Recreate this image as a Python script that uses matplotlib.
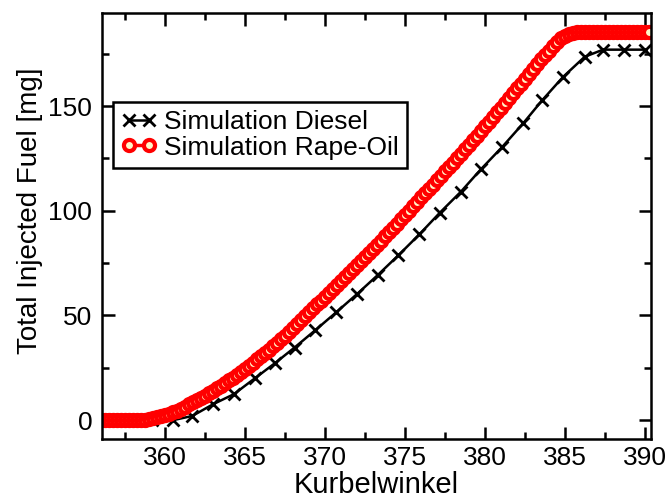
import numpy as np
import matplotlib
matplotlib.use('Agg')
import matplotlib.pyplot as plt
from matplotlib.ticker import MultipleLocator

plt.rcParams['font.family'] = ['Liberation Sans', 'DejaVu Sans']

# Simulation Diesel (crank angle, injected fuel in mg)
diesel_x = [356.6, 357.9, 359.2, 360.5, 361.7, 363.0, 364.3, 365.6, 366.9, 368.1,
            369.4, 370.7, 372.0, 373.3, 374.6, 375.9, 377.2, 378.5, 379.75, 381.1,
            382.4, 383.6, 384.9, 386.25, 387.4, 388.7, 390.0]
diesel_y = [0, 0, 0, 0, 2.0, 7.6, 12.4, 19.9, 27.4, 34.7,
            43.0, 51.5, 60.2, 69.3, 78.8, 88.7, 99.2, 109.1, 119.8, 130.6,
            141.8, 152.9, 164.0, 173.6, 177.0, 177.0, 177.0]

# Simulation Rape-Oil
rape_x = [356.0, 356.25, 356.5, 356.75, 357.0, 357.25, 357.5, 357.75,
          358.0, 358.25, 358.5, 358.75, 359.0, 359.25, 359.5, 359.75,
          360.0, 360.25, 360.5, 360.75, 361.0, 361.25, 361.5, 361.75,
          362.0, 362.25, 362.5, 362.75, 363.0, 363.25, 363.5, 363.75,
          364.0, 364.25, 364.5, 364.75, 365.0, 365.25, 365.5, 365.75,
          366.0, 366.25, 366.5, 366.75, 367.0, 367.25, 367.5, 367.75,
          368.0, 368.25, 368.5, 368.75, 369.0, 369.25, 369.5, 369.75,
          370.0, 370.25, 370.5, 370.75, 371.0, 371.25, 371.5, 371.75,
          372.0, 372.25, 372.5, 372.75, 373.0, 373.25, 373.5, 373.75,
          374.0, 374.25, 374.5, 374.75, 375.0, 375.25, 375.5, 375.75,
          376.0, 376.25, 376.5, 376.75, 377.0, 377.25, 377.5, 377.75,
          378.0, 378.25, 378.5, 378.75, 379.0, 379.25, 379.5, 379.75,
          380.0, 380.25, 380.5, 380.75, 381.0, 381.25, 381.5, 381.75,
          382.0, 382.25, 382.5, 382.75, 383.0, 383.25, 383.5, 383.75,
          384.0, 384.25, 384.5, 384.75, 385.0, 385.25, 385.5, 385.75,
          386.0, 386.25, 386.5, 386.75, 387.0, 387.25, 387.5, 387.75,
          388.0, 388.25, 388.5, 388.75, 389.0, 389.25, 389.5, 389.75,
          390.0, 390.25]
rape_y = [0, 0, 0, 0, 0, 0, 0, 0,
          0, 0, 0.1, 0.3, 0.6, 1.0, 1.4, 1.9,
          2.4, 3.1, 3.8, 4.6, 5.5, 6.5, 7.5, 8.5,
          9.5, 10.6, 11.7, 12.8, 14.0, 15.2, 16.4, 17.7,
          19.0, 20.3, 21.7, 23.1, 24.5, 26.0, 27.5, 29.0,
          30.5, 32.1, 33.7, 35.3, 37.0, 38.7, 40.4, 42.2,
          44.0, 45.9, 47.8, 49.6, 51.5, 53.4, 55.3, 57.1,
          59.0, 60.9, 62.8, 64.6, 66.5, 68.4, 70.3, 72.1,
          74.0, 76.0, 77.9, 79.9, 81.8, 83.8, 85.8, 87.8,
          89.8, 91.8, 93.9, 95.9, 98.0, 100.1, 102.2, 104.3,
          106.4, 108.4, 110.4, 112.5, 114.5, 116.6, 118.8, 120.9,
          123.0, 125.1, 127.3, 129.4, 131.5, 133.7, 135.9, 138.1,
          140.3, 142.5, 144.8, 147.0, 149.3, 151.6, 153.9, 156.2,
          158.5, 160.8, 163.2, 165.5, 167.8, 170.1, 172.3, 174.5,
          176.5, 178.8, 180.8, 182.4, 183.6, 184.4, 185.0, 185.3,
          185.4, 185.5, 185.5, 185.5, 185.5, 185.5, 185.5, 185.5,
          185.5, 185.5, 185.5, 185.5, 185.5, 185.5, 185.5, 185.5,
          185.5, 185.5]

fig = plt.figure(figsize=(6.68, 5.01), dpi=100)
ax = fig.add_axes([0.1527, 0.1238, 0.8219, 0.8502])

ax.plot(diesel_x, diesel_y, color='black', lw=1.8, marker='x',
        ms=8.5, mew=2, label='Simulation Diesel', zorder=2)
ax.plot(rape_x, rape_y, color='red', lw=2.5, marker='o', ms=8, mew=3,
        mfc='#fff6c8', mec='red', label='Simulation Rape-Oil', zorder=2.1)

ax.set_xlim(356.05, 390.4)
ax.set_ylim(-9, 194.5)
ax.xaxis.set_major_locator(MultipleLocator(5))
ax.xaxis.set_minor_locator(MultipleLocator(2.5))
ax.yaxis.set_major_locator(MultipleLocator(50))
ax.yaxis.set_minor_locator(MultipleLocator(25))

ax.tick_params(which='both', direction='in', top=True, right=True,
               width=1.8, labelsize=19)
ax.tick_params(which='major', length=9)
ax.tick_params(which='minor', length=5)
ax.tick_params(axis='x', pad=5)
ax.tick_params(axis='y', pad=7)
for s in ax.spines.values():
    s.set_linewidth(1.8)

ax.set_xlabel('Kurbelwinkel', fontsize=21, labelpad=1)
ax.set_ylabel('Total Injected Fuel [mg]', fontsize=20)
ax.yaxis.set_label_coords(-0.108, 0.535)

leg = ax.legend(loc='upper left', bbox_to_anchor=(0.02, 0.79),
                borderaxespad=0, fontsize=19, fancybox=False,
                edgecolor='black', framealpha=1, numpoints=2,
                handlelength=1.35, handletextpad=0.3, labelspacing=0.05,
                borderpad=0.3)
leg.get_frame().set_linewidth(1.8)

fig.savefig('out.png', dpi=100)
